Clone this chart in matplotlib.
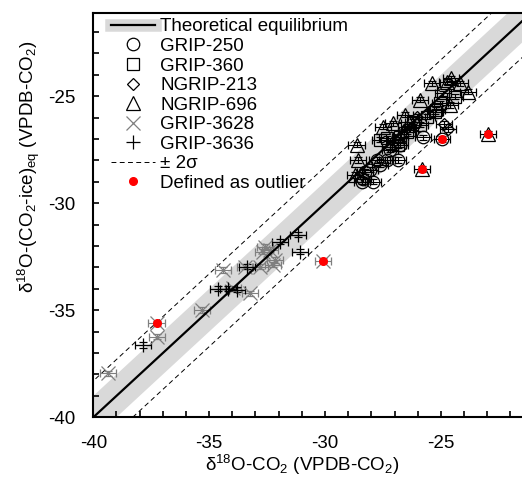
import numpy as np
import matplotlib
matplotlib.use("Agg")
import matplotlib.pyplot as plt
from matplotlib.lines import Line2D

plt.rcParams['font.family'] = ['Liberation Sans', 'DejaVu Sans']
plt.rcParams['mathtext.default'] = 'regular'
plt.rcParams['axes.unicode_minus'] = False

# data (x: d18O-CO2, y: d18O-(CO2-ice)eq)
grip250_x = [-28.42, -27.92, -27.34, -26.84, -25.76, -28.35, -28.06, -27.77,
             -27.20, -26.77, -27.63, -28.28, -24.94]
grip250_y = [-28.99, -28.99, -27.98, -27.98, -26.92, -28.88, -28.44, -27.98,
             -27.50, -27.27, -28.21, -28.53, -27.00]

grip360_x = [-24.90, -24.40, -25.19, -25.62, -26.20, -26.48, -27.34, -26.77,
             -25.04, -25.26, -26.84, -27.63, -25.91, -26.34]
grip360_y = [-24.86, -25.02, -25.64, -25.95, -26.19, -26.65, -26.96, -26.89,
             -25.33, -25.72, -27.28, -27.04, -26.34, -26.57]

ngrip213_x = [-24.85, -24.70, -26.48, -26.05, -26.77, -27.20, -26.98]
ngrip213_y = [-26.30, -26.55, -26.42, -25.95, -26.89, -27.36, -27.04]

ngrip696_x = [-28.64, -28.57, -28.71, -27.49, -27.06, -25.91, -25.40, -24.75,
              -24.55, -24.18, -23.82, -24.61, -26.55, -22.96, -25.81]
ngrip696_y = [-27.27, -27.98, -28.68, -26.42, -26.26, -25.17, -24.39, -24.32,
              -24.17, -24.39, -24.79, -25.41, -25.87, -26.76, -28.40]

grip3628_x = [-32.67, -32.38, -32.23, -33.46, -34.39, -33.24, -33.96, -35.32,
              -37.26, -39.35, -32.81, -32.60, -32.16, -30.08, -37.27]
grip3628_y = [-32.26, -32.18, -32.88, -32.96, -33.12, -34.21, -33.97, -34.99,
              -36.23, -37.94, -32.96, -32.03, -32.65, -32.68, -35.61]

grip3636_x = [-31.16, -31.08, -31.95, -34.61, -34.18, -33.81, -37.84, -33.38]
grip3636_y = [-31.48, -32.26, -31.79, -34.00, -34.00, -34.05, -36.62, -32.96]

outlier_x = [-37.27, -30.08, -22.96, -25.81, -24.94]
outlier_y = [-35.61, -32.68, -26.76, -28.40, -27.00]

x_err = 0.35
y_err = 0.12
band_half = 1.0
two_sigma = 1.7

fig = plt.figure(figsize=(5.22, 4.78), dpi=100)
ax = fig.add_axes([0.1787, 0.127, 1 - 0.1787, 0.9734 - 0.127])

# equilibrium line, band and 2 sigma lines
xx = np.array([-42, -18])
ax.fill_between(xx, xx - band_half, xx + band_half, color='#d9d9d9', lw=0, zorder=1)
ax.plot(xx, xx, color='black', lw=1.6, zorder=5)
ax.plot(xx, xx + two_sigma, color='black', lw=0.7, ls=(0, (5, 3.5)), zorder=2)
ax.plot(xx, xx - two_sigma, color='black', lw=0.7, ls=(0, (5, 3.5)), zorder=2)

series = [
    (grip250_x, grip250_y, 'o', 'black', 9),
    (grip360_x, grip360_y, 's', 'black', 9),
    (ngrip213_x, ngrip213_y, 'D', 'black', 6.5),
    (ngrip696_x, ngrip696_y, '^', 'black', 9.5),
    (grip3628_x, grip3628_y, 'x', '#7f7f7f', 9.5),
    (grip3636_x, grip3636_y, '+', 'black', 10.5),
]
for xs, ys, mk, col, ms in series:
    ax.errorbar(xs, ys, xerr=x_err, yerr=y_err, fmt=mk, mfc='none', mec=col,
                ms=ms, mew=0.9, ecolor=col, elinewidth=0.8, capsize=3,
                capthick=0.8, zorder=3)

ax.plot(outlier_x, outlier_y, 'o', color='red', ms=5.5, zorder=6)

ax.set_xlim(-40, -21.5)
ax.set_ylim(-40, -21.1)
ax.set_xticks([-40, -35, -30, -25])
ax.set_yticks([-40, -35, -30, -25])
ax.set_xticks(np.arange(-40, -21, 1), minor=True)
ax.set_yticks(np.arange(-40, -21, 1), minor=True)
ax.tick_params(which='both', direction='in', labelsize=13.5, pad=13, width=1.2)
ax.tick_params(which='major', length=4)
ax.tick_params(which='minor', length=4)
for s in ['left', 'bottom', 'top']:
    ax.spines[s].set_linewidth(1.5)
ax.spines['right'].set_visible(False)

ax.set_xlabel(r'δ$^{18}$O-CO$_2$ (VPDB-CO$_2$)', fontsize=13.5)
ax.set_ylabel(r'δ$^{18}$O-(CO$_2$-ice)$_{eq}$ (VPDB-CO$_2$)', fontsize=13.5)
ax.xaxis.set_label_coords(0.487, -0.088)
ax.yaxis.set_label_coords(-0.12, 0.62)

handles = [
    (Line2D([], [], color='#d9d9d9', lw=9), Line2D([], [], color='black', lw=1.6)),
    Line2D([], [], ls='none', marker='o', mfc='none', mec='black', ms=9, mew=0.9),
    Line2D([], [], ls='none', marker='s', mfc='none', mec='black', ms=9, mew=0.9),
    Line2D([], [], ls='none', marker='D', mfc='none', mec='black', ms=6.5, mew=0.9),
    Line2D([], [], ls='none', marker='^', mfc='none', mec='black', ms=9.5, mew=0.9),
    Line2D([], [], ls='none', marker='x', mec='#7f7f7f', ms=9.5, mew=0.9),
    Line2D([], [], ls='none', marker='+', mec='black', ms=10.5, mew=0.9),
    Line2D([], [], color='black', lw=0.7, ls=(0, (5, 3.5))),
    Line2D([], [], ls='none', marker='o', color='red', ms=5.5),
]
labels = ['Theoretical equilibrium', 'GRIP-250', 'GRIP-360', 'NGRIP-213',
          'NGRIP-696', 'GRIP-3628', 'GRIP-3636', '± 2σ', 'Defined as outlier']
ax.legend(handles, labels, loc='upper left', bbox_to_anchor=(0.016, 1.014),
          frameon=False, fontsize=13.5, handlelength=2.3, handletextpad=0.3,
          labelspacing=0.13, borderaxespad=0.3, borderpad=0.3)

fig.savefig('out.png', dpi=100)
